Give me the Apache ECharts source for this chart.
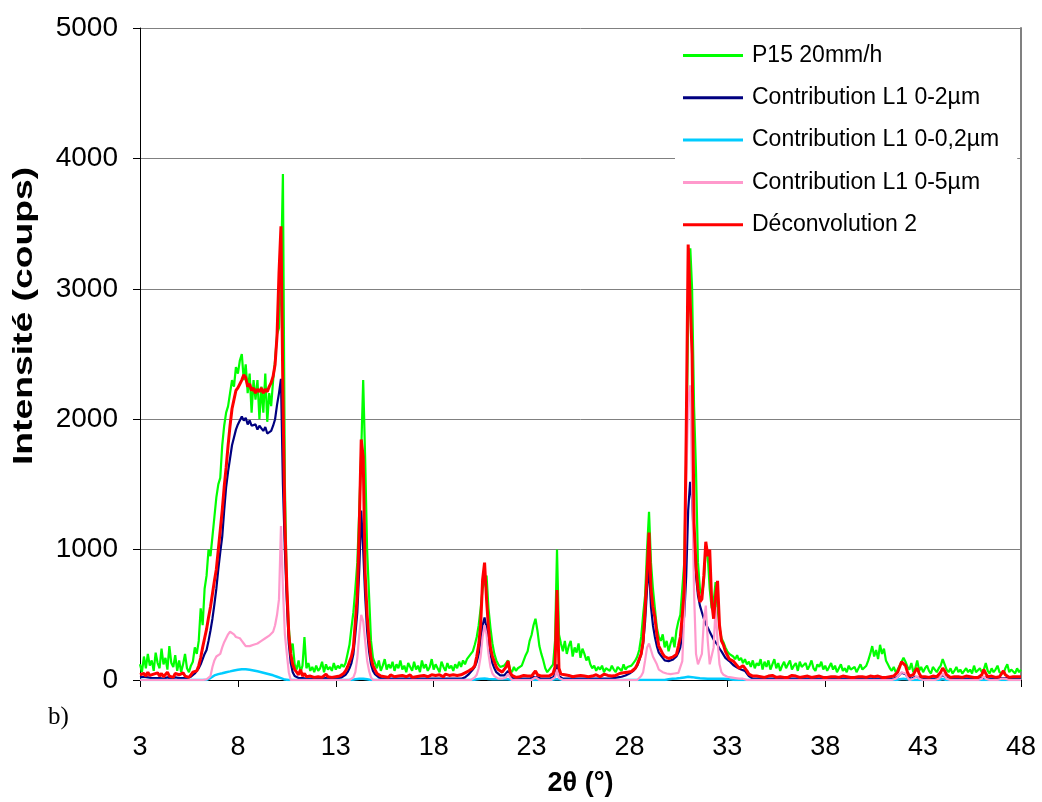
<!DOCTYPE html>
<html>
<head>
<meta charset="utf-8">
<script src="https://cdn.jsdelivr.net/npm/echarts@6/dist/echarts.min.js"></script>
<style>
html,body{margin:0;padding:0;background:#fff;}
#chart{width:1042px;height:802px;}
</style>
</head>
<body>
<div id="chart"></div>
<script>
// Sampling grid of the diffractogram: 2θ from 3° to 48° by 0.1°
const X_START = 3;
const X_STEP = 0.1;

const seriesNames = ['P15 20mm/h', 'Contribution L1 0-2µm', 'Contribution L1 0-0,2µm', 'Contribution L1 0-5µm', 'Déconvolution 2'];
const xTicks = [3, 8, 13, 18, 23, 28, 33, 38, 43, 48];
const yTicks = [0, 1000, 2000, 3000, 4000, 5000];
const xTitle = '2θ (°)';
const yTitle = 'Intensité (coups)';
const panelLabel = 'b)';

// one row = one degree (x.0 ... x.9)
const greenP15 = [
  120, 60, 180, 90, 200, 110, 150, 70, 210, 130,      // 3
  90, 240, 120, 170, 80, 260, 130, 100, 190, 70,      // 4
  150, 60, 120, 200, 90, 60, 110, 140, 250, 200,      // 5
  300, 550, 420, 700, 800, 1000, 950, 1100, 1250, 1400, // 6
  1500, 1550, 1800, 1950, 2050, 2100, 2200, 2300, 2250, 2400, // 7
  2350, 2450, 2500, 2300, 2420, 2200, 2350, 2050, 2300, 2150, // 8
  2300, 2000, 2250, 2050, 2350, 1980, 2200, 2100, 2300, 2450, // 9
  2650, 2700, 3100, 3880, 1500, 700, 400, 220, 280, 120, // 10
  80, 150, 60, 110, 330, 90, 130, 70, 100, 60,        // 11
  110, 70, 90, 140, 60, 120, 80, 100, 70, 130,        // 12
  80, 110, 90, 120, 100, 130, 200, 270, 400, 520,     // 13
  700, 900, 1300, 1750, 2300, 1700, 1000, 650, 300, 170, // 14
  130, 90, 150, 70, 110, 160, 80, 120, 90, 140,       // 15
  70, 120, 90, 150, 80, 110, 60, 130, 100, 70,        // 16
  140, 80, 110, 60, 150, 90, 120, 70, 100, 160,       // 17
  80, 120, 90, 60, 140, 100, 70, 130, 90, 110,        // 18
  70, 120, 90, 140, 100, 150, 120, 160, 150, 200,     // 19
  220, 270, 330, 420, 550, 700, 750, 800, 550, 400,   // 20
  280, 200, 150, 120, 100, 90, 110, 130, 150, 80,     // 21
  60, 100, 70, 90, 90, 110, 150, 190, 220, 300,       // 22
  345, 420, 470, 380, 260, 200, 150, 90, 60, 80,      // 23
  70, 120, 300, 1000, 350, 280, 220, 300, 200, 260,   // 24
  300, 180, 250, 210, 280, 170, 240, 200, 150, 180,   // 25
  120, 90, 110, 70, 100, 80, 110, 60, 90, 100,        // 26
  70, 110, 80, 60, 100, 90, 70, 120, 80, 100,         // 27
  90, 110, 130, 150, 180, 230, 330, 500, 650, 1000,   // 28
  1290, 900, 700, 550, 400, 330, 300, 350, 250, 300,  // 29
  220, 280, 330, 250, 380, 450, 500, 700, 900, 1700,  // 30
  2800, 3340, 3000, 2100, 1600, 900, 700, 650, 750, 1000, // 31
  950, 700, 550, 600, 750, 550, 400, 320, 290, 250,   // 32
  220, 200, 210, 180, 160, 190, 150, 170, 130, 160,   // 33
  120, 140, 100, 150, 90, 130, 110, 160, 80, 140,     // 34
  100, 150, 80, 120, 160, 90, 130, 70, 110, 140,      // 35
  90, 120, 150, 80, 110, 130, 70, 140, 100, 90,       // 36
  130, 80, 110, 150, 90, 70, 120, 100, 140, 80,       // 37
  110, 70, 100, 130, 80, 110, 60, 90, 120, 70,        // 38
  90, 60, 110, 80, 70, 100, 60, 90, 120, 80,          // 39
  70, 110, 150, 200, 260, 180, 230, 160, 270, 200,    // 40
  240, 150, 120, 90, 70, 100, 60, 80, 110, 140,       // 41
  170, 140, 100, 80, 130, 60, 90, 150, 70, 100,       // 42
  60, 90, 110, 70, 50, 100, 80, 60, 90, 110,          // 43
  160, 120, 80, 60, 90, 50, 70, 100, 60, 80,          // 44
  50, 70, 90, 60, 80, 50, 110, 60, 70, 90,            // 45
  60, 80, 130, 70, 50, 90, 60, 80, 110, 60,           // 46
  70, 50, 90, 120, 60, 80, 70, 50, 90, 60,            // 47
  80                                                  // 48
];

const navyL1_0_2 = [
  20, 15, 25, 15, 20, 10, 15, 20, 15, 10,             // 3
  15, 20, 10, 15, 20, 15, 10, 15, 20, 15,             // 4
  15, 10, 15, 20, 15, 20, 25, 35, 50, 70,             // 5
  90, 120, 160, 200, 230, 300, 380, 470, 580, 700,    // 6
  850, 980, 1100, 1300, 1480, 1600, 1700, 1800, 1860, 1920, // 7
  1960, 1990, 2020, 1990, 2010, 1960, 1990, 1950, 1940, 1960, // 8
  1920, 1950, 1930, 1910, 1940, 1890, 1880, 1910, 1950, 2000, // 9
  2110, 2200, 2310, 1500, 1000, 600, 280, 130, 60, 30, // 10
  20, 15, 10, 15, 10, 10, 15, 10, 10, 15,             // 11
  10, 10, 15, 10, 10, 15, 10, 10, 15, 10,             // 12
  10, 15, 15, 20, 25, 40, 60, 90, 130, 200,           // 13
  350, 520, 850, 1300, 1000, 650, 380, 220, 120, 70,  // 14
  45, 30, 20, 15, 10, 10, 10, 10, 10, 10,             // 15
  10, 10, 10, 10, 10, 10, 10, 10, 10, 10,             // 16
  10, 10, 10, 10, 10, 10, 10, 10, 10, 10,             // 17
  10, 10, 10, 10, 10, 10, 10, 10, 10, 10,             // 18
  10, 10, 10, 10, 10, 15, 20, 30, 45, 60,             // 19
  80, 100, 140, 200, 300, 420, 480, 400, 300, 200,    // 20
  130, 90, 60, 45, 35, 30, 35, 50, 70, 30,            // 21
  15, 10, 10, 10, 10, 10, 10, 10, 10, 10,             // 22
  15, 25, 30, 20, 15, 10, 10, 10, 10, 10,             // 23
  10, 20, 40, 120, 30, 15, 10, 10, 10, 10,            // 24
  10, 10, 10, 10, 10, 10, 10, 10, 10, 10,             // 25
  10, 10, 10, 10, 10, 10, 10, 10, 10, 10,             // 26
  10, 10, 15, 15, 20, 20, 25, 30, 35, 40,             // 27
  50, 60, 70, 90, 110, 150, 200, 280, 450, 700,       // 28
  875, 560, 420, 330, 260, 210, 190, 170, 150, 145,   // 29
  145, 150, 155, 165, 180, 210, 250, 350, 500, 800,   // 30
  1300, 1520, 1380, 1050, 800, 650, 570, 520, 470, 430, // 31
  400, 370, 340, 310, 300, 270, 240, 220, 195, 170,   // 32
  160, 145, 130, 115, 105, 95, 85, 80, 75, 70,        // 33
  50, 30, 20, 10, 10, 10, 10, 10, 10, 10,             // 34
  10, 10, 10, 10, 10, 10, 10, 10, 10, 10,             // 35
  10, 10, 10, 10, 10, 10, 10, 10, 10, 10,             // 36
  10, 10, 10, 10, 10, 10, 10, 10, 10, 10,             // 37
  10, 10, 10, 10, 10, 10, 10, 10, 10, 10,             // 38
  10, 10, 10, 10, 10, 10, 10, 10, 10, 10,             // 39
  10, 10, 10, 10, 10, 10, 10, 10, 10, 10,             // 40
  10, 10, 10, 10, 10, 10, 15, 25, 40, 55,             // 41
  60, 45, 25, 15, 10, 15, 25, 30, 20, 10,             // 42
  10, 10, 10, 10, 10, 10, 10, 10, 15, 25,             // 43
  40, 30, 15, 10, 10, 10, 10, 10, 10, 10,             // 44
  10, 10, 10, 10, 10, 10, 10, 10, 10, 10,             // 45
  15, 30, 20, 10, 10, 10, 10, 10, 10, 10,             // 46
  15, 25, 15, 10, 10, 10, 10, 10, 10, 10,             // 47
  10                                                  // 48
];

const cyanL1_0_02 = [
  0, 0, 0, 0, 0, 0, 0, 0, 0, 0,                       // 3
  0, 0, 0, 0, 0, 0, 0, 0, 0, 0,                       // 4
  0, 0, 0, 0, 0, 0, 0, 0, 0, 0,                       // 5
  0, 0, 0, 0, 0, 5, 15, 25, 35, 40,                   // 6
  45, 48, 52, 56, 60, 63, 66, 70, 73, 76,             // 7
  78, 80, 82, 83, 82, 80, 78, 76, 73, 70,             // 8
  67, 63, 60, 56, 52, 48, 44, 40, 36, 30,             // 9
  25, 20, 14, 8, 3, 0, 0, 0, 0, 0,                    // 10
  0, 0, 0, 0, 0, 0, 0, 0, 0, 0,                       // 11
  0, 0, 0, 0, 0, 0, 0, 0, 0, 0,                       // 12
  0, 0, 0, 0, 0, 0, 0, 0, 0, 0,                       // 13
  5, 8, 10, 12, 10, 8, 5, 0, 0, 0,                    // 14
  0, 0, 0, 0, 0, 0, 0, 0, 0, 0,                       // 15
  0, 0, 0, 0, 0, 0, 0, 0, 0, 0,                       // 16
  0, 0, 0, 0, 0, 0, 0, 0, 0, 0,                       // 17
  0, 0, 0, 0, 0, 0, 0, 0, 0, 0,                       // 18
  0, 0, 0, 0, 0, 0, 0, 0, 0, 0,                       // 19
  0, 3, 5, 8, 10, 12, 12, 10, 8, 5,                   // 20
  5, 5, 5, 5, 5, 5, 5, 5, 5, 3,                       // 21
  0, 0, 0, 0, 0, 0, 0, 0, 0, 0,                       // 22
  0, 0, 0, 0, 0, 0, 0, 0, 0, 0,                       // 23
  0, 0, 5, 10, 5, 0, 0, 0, 0, 0,                      // 24
  0, 0, 0, 0, 0, 0, 0, 0, 0, 0,                       // 25
  0, 0, 0, 0, 0, 0, 0, 0, 0, 0,                       // 26
  0, 0, 0, 0, 0, 0, 0, 0, 0, 0,                       // 27
  0, 0, 0, 0, 0, 0, 0, 0, 0, 0,                       // 28
  0, 0, 0, 0, 0, 0, 0, 0, 0, 0,                       // 29
  5, 8, 10, 12, 12, 14, 15, 18, 20, 22,               // 30
  25, 25, 22, 20, 18, 15, 14, 12, 12, 10,             // 31
  10, 10, 10, 10, 10, 10, 10, 10, 10, 10,             // 32
  8, 5, 3, 0, 0, 0, 0, 0, 0, 0,                       // 33
  0, 0, 0, 0, 0, 0, 0, 0, 0, 0,                       // 34
  0, 0, 0, 0, 0, 0, 0, 0, 0, 0,                       // 35
  0, 0, 0, 0, 0, 0, 0, 0, 0, 0,                       // 36
  0, 0, 0, 0, 0, 0, 0, 0, 0, 0,                       // 37
  0, 0, 0, 0, 0, 0, 0, 0, 0, 0,                       // 38
  0, 0, 0, 0, 0, 0, 0, 0, 0, 0,                       // 39
  0, 0, 0, 0, 0, 0, 0, 0, 0, 0,                       // 40
  0, 0, 0, 0, 0, 0, 0, 0, 5, 8,                       // 41
  10, 8, 5, 0, 0, 0, 0, 0, 0, 0,                      // 42
  0, 0, 0, 0, 0, 0, 0, 0, 0, 5,                       // 43
  8, 5, 0, 0, 0, 0, 0, 0, 0, 0,                       // 44
  0, 0, 0, 0, 0, 0, 0, 0, 0, 0,                       // 45
  0, 0, 0, 0, 0, 0, 0, 0, 0, 0,                       // 46
  0, 0, 0, 0, 0, 0, 0, 0, 0, 0,                       // 47
  0                                                   // 48
];

const pinkL1_0_5 = [
  0, 0, 0, 0, 0, 0, 0, 0, 0, 0,                       // 3
  0, 0, 0, 0, 0, 0, 0, 0, 0, 0,                       // 4
  0, 0, 0, 0, 0, 0, 0, 0, 0, 0,                       // 5
  0, 0, 0, 0, 5, 15, 30, 100, 150, 180,               // 6
  190, 200, 250, 290, 320, 350, 370, 360, 350, 330,   // 7
  320, 320, 300, 280, 260, 255, 260, 265, 270, 280,   // 8
  280, 290, 300, 310, 320, 330, 340, 350, 370, 420,   // 9
  500, 620, 1180, 700, 350, 200, 60, 0, 0, 0,         // 10
  0, 0, 0, 0, 0, 0, 0, 0, 0, 0,                       // 11
  0, 0, 0, 0, 0, 0, 0, 0, 0, 0,                       // 12
  0, 0, 0, 0, 0, 0, 0, 0, 0, 20,                      // 13
  60, 170, 350, 500, 450, 300, 150, 70, 20, 0,        // 14
  0, 0, 0, 0, 0, 0, 0, 0, 0, 0,                       // 15
  0, 0, 0, 0, 0, 0, 0, 0, 0, 0,                       // 16
  0, 0, 0, 0, 0, 0, 0, 0, 0, 0,                       // 17
  0, 0, 0, 0, 0, 0, 0, 0, 0, 0,                       // 18
  0, 0, 0, 0, 0, 0, 0, 0, 0, 0,                       // 19
  10, 20, 40, 90, 180, 330, 420, 350, 200, 100,       // 20
  50, 30, 20, 10, 10, 10, 15, 20, 50, 20,             // 21
  0, 0, 0, 0, 0, 0, 0, 0, 0, 0,                       // 22
  0, 10, 20, 10, 0, 0, 0, 0, 0, 0,                    // 23
  0, 10, 20, 80, 15, 0, 0, 0, 0, 0,                   // 24
  0, 0, 0, 0, 0, 0, 0, 0, 0, 0,                       // 25
  0, 0, 0, 0, 0, 0, 0, 0, 0, 0,                       // 26
  0, 0, 0, 0, 0, 0, 0, 0, 0, 0,                       // 27
  0, 0, 0, 0, 0, 10, 30, 60, 150, 250,                // 28
  280, 230, 180, 195, 120, 80, 70, 60, 55, 50,        // 29
  45, 45, 45, 50, 50, 55, 60, 145, 500, 1500,         // 30
  2130, 2260, 1500, 670, 200, 120, 120, 200, 450, 570, // 31
  300, 120, 120, 250, 560, 300, 120, 60, 40, 30,      // 32
  25, 20, 20, 15, 15, 10, 10, 10, 10, 10,             // 33
  0, 0, 0, 0, 0, 0, 0, 0, 0, 0,                       // 34
  0, 0, 0, 0, 0, 0, 0, 0, 0, 0,                       // 35
  0, 0, 0, 0, 0, 0, 0, 0, 0, 0,                       // 36
  0, 0, 0, 0, 0, 0, 0, 0, 0, 0,                       // 37
  0, 0, 0, 0, 0, 0, 0, 0, 0, 0,                       // 38
  0, 0, 0, 0, 0, 0, 0, 0, 0, 0,                       // 39
  0, 0, 0, 0, 0, 0, 0, 0, 0, 0,                       // 40
  0, 0, 0, 0, 0, 0, 10, 20, 40, 60,                   // 41
  70, 50, 20, 0, 0, 10, 20, 30, 10, 0,                // 42
  0, 0, 0, 0, 0, 0, 0, 0, 10, 30,                     // 43
  50, 40, 10, 0, 0, 0, 0, 0, 0, 0,                    // 44
  0, 0, 0, 0, 0, 0, 0, 0, 0, 0,                       // 45
  10, 30, 10, 0, 0, 0, 0, 0, 0, 0,                    // 46
  10, 25, 10, 0, 0, 0, 0, 0, 0, 0,                    // 47
  0                                                   // 48
];

const redDeconv2 = [
  40, 25, 50, 30, 60, 35, 20, 45, 30, 55,             // 3
  30, 50, 25, 40, 60, 30, 45, 20, 50, 35,             // 4
  40, 25, 55, 30, 45, 20, 40, 60, 50, 70,             // 5
  110, 170, 250, 320, 390, 480, 560, 660, 760, 850,   // 6
  1000, 1150, 1300, 1480, 1630, 1800, 1950, 2080, 2150, 2220, // 7
  2240, 2270, 2300, 2340, 2320, 2250, 2270, 2220, 2240, 2200, // 8
  2230, 2210, 2240, 2200, 2230, 2210, 2250, 2280, 2330, 2420, // 9
  2640, 3120, 3480, 2200, 1200, 720, 350, 200, 120, 80, // 10
  60, 40, 80, 30, 50, 25, 40, 30, 45, 20,             // 11
  35, 25, 40, 20, 30, 45, 25, 35, 20, 30,             // 12
  25, 40, 30, 45, 50, 70, 100, 140, 180, 250,         // 13
  450, 650, 1180, 1845, 1710, 820, 500, 300, 170, 110, // 14
  80, 50, 35, 30, 45, 25, 35, 20, 40, 30,             // 15
  25, 40, 30, 20, 35, 45, 25, 30, 40, 20,             // 16
  35, 25, 40, 30, 20, 35, 45, 25, 30, 40,             // 17
  25, 35, 20, 40, 30, 25, 45, 30, 35, 25,             // 18
  40, 30, 35, 45, 40, 50, 55, 60, 70, 80,             // 19
  90, 110, 180, 270, 420, 770, 900, 620, 400, 250,    // 20
  180, 140, 100, 80, 70, 60, 70, 100, 145, 60,        // 21
  35, 25, 20, 30, 25, 20, 35, 25, 30, 20,             // 22
  30, 50, 70, 40, 25, 30, 20, 30, 25, 30,             // 23
  35, 50, 100, 690, 90, 45, 30, 40, 25, 35,           // 24
  30, 25, 40, 30, 20, 35, 25, 30, 40, 25,             // 25
  35, 30, 25, 40, 30, 25, 35, 45, 30, 35,             // 26
  40, 30, 45, 35, 40, 50, 40, 55, 45, 60,             // 27
  55, 65, 70, 90, 120, 160, 200, 300, 550, 820,       // 28
  1130, 700, 560, 480, 350, 260, 230, 200, 180, 170,  // 29
  165, 170, 175, 185, 195, 260, 330, 500, 700, 1900,  // 30
  3340, 3340, 2500, 1200, 870, 700, 600, 620, 800, 1060, // 31
  950, 1000, 600, 470, 640, 760, 420, 300, 270, 220,  // 32
  190, 160, 150, 145, 130, 110, 90, 100, 110, 120,    // 33
  70, 45, 35, 30, 25, 30, 20, 25, 30, 20,             // 34
  25, 30, 20, 35, 25, 20, 30, 25, 35, 20,             // 35
  30, 20, 25, 35, 20, 30, 25, 20, 30, 25,             // 36
  20, 30, 25, 20, 35, 25, 20, 30, 25, 20,             // 37
  25, 20, 30, 25, 20, 25, 30, 20, 25, 30,             // 38
  20, 25, 30, 20, 25, 20, 30, 25, 20, 25,             // 39
  30, 20, 25, 30, 20, 25, 20, 30, 25, 20,             // 40
  25, 20, 30, 25, 20, 30, 40, 60, 100, 140,           // 41
  155, 110, 60, 30, 25, 40, 70, 90, 50, 25,           // 42
  20, 25, 30, 20, 25, 30, 20, 25, 40, 60,             // 43
  90, 70, 40, 25, 20, 30, 25, 20, 25, 30,             // 44
  20, 25, 30, 20, 25, 30, 20, 25, 20, 30,             // 45
  40, 80, 50, 25, 20, 30, 25, 20, 30, 25,             // 46
  40, 70, 40, 25, 20, 30, 25, 20, 25, 30,             // 47
  25                                                  // 48
];

const seriesValues = [greenP15, navyL1_0_2, cyanL1_0_02, pinkL1_0_5, redDeconv2];
const seriesColors = ['#00FF00', '#000080', '#00CCFF', '#FF99CC', '#FF0000'];
const seriesWidths = [2.2, 2.2, 2.5, 2.2, 3];

function toPairs(values) {
  return values.map((v, i) => [Math.round((X_START + i * X_STEP) * 10) / 10, v]);
}

const chart = echarts.init(document.getElementById('chart'), null, { renderer: 'canvas' });
const FONT = '"Liberation Sans", Arial, sans-serif';

chart.setOption({
  animation: false,
  backgroundColor: '#ffffff',
  grid: { left: 140, right: 21, top: 28, bottom: 113, containLabel: false },
  legend: {
    orient: 'vertical',
    left: 675,
    top: 32,
    padding: [12, 18, 12, 8],
    backgroundColor: '#ffffff',
    icon: 'rect',
    itemWidth: 60,
    itemHeight: 3,
    itemGap: 19.3,
    textStyle: { fontFamily: FONT, fontSize: 23, color: '#000', padding: [0, 0, 0, 4] },
    data: seriesNames
  },
  xAxis: {
    type: 'value',
    min: xTicks[0],
    max: xTicks[xTicks.length - 1],
    interval: xTicks[1] - xTicks[0],
    name: xTitle,
    nameLocation: 'middle',
    nameGap: 90,
    nameTextStyle: { fontFamily: FONT, fontSize: 27, fontWeight: 'bold', color: '#000' },
    axisLine: { show: true, onZero: false, lineStyle: { color: '#000', width: 1 } },
    axisTick: { show: true, inside: false, length: 7, lineStyle: { color: '#000' } },
    axisLabel: { fontFamily: FONT, fontSize: 27, color: '#000', margin: 54 },
    splitLine: { show: false }
  },
  yAxis: [{
    type: 'value',
    min: yTicks[0],
    max: yTicks[yTicks.length - 1],
    interval: yTicks[1] - yTicks[0],
    axisLine: { show: true, onZero: false, lineStyle: { color: '#000', width: 1 } },
    axisTick: { show: true, inside: false, length: 7, lineStyle: { color: '#000' } },
    axisLabel: { fontFamily: FONT, fontSize: 28, color: '#000', margin: 22, formatter: v => String(v) },
    splitLine: { show: true, lineStyle: { color: '#808080', width: 1 } }
  }, {
    type: 'value',
    position: 'right',
    min: yTicks[0],
    max: yTicks[yTicks.length - 1],
    axisLine: { show: true, lineStyle: { color: '#808080', width: 2 } },
    axisTick: { show: false },
    axisLabel: { show: false },
    splitLine: { show: false }
  }],
  graphic: [{
    type: 'text',
    x: 25,
    y: 316,
    rotation: Math.PI / 2,
    scaleX: 1.38,
    style: { text: yTitle, font: 'bold 27px "Liberation Sans", Arial, sans-serif', fill: '#000', align: 'center', verticalAlign: 'middle' }
  }, {
    type: 'text',
    left: 48,
    top: 705,
    style: { text: panelLabel, font: '25px "Liberation Serif", "Times New Roman", serif', fill: '#000' }
  }],
  series: seriesNames.map((name, k) => ({
    name: name,
    type: 'line',
    yAxisIndex: 0,
    data: toPairs(seriesValues[k]),
    symbol: 'none',
    showSymbol: false,
    sampling: null,
    color: seriesColors[k],
    lineStyle: { color: seriesColors[k], width: seriesWidths[k] },
    z: 2 + k
  }))
});
</script>
</body>
</html>
